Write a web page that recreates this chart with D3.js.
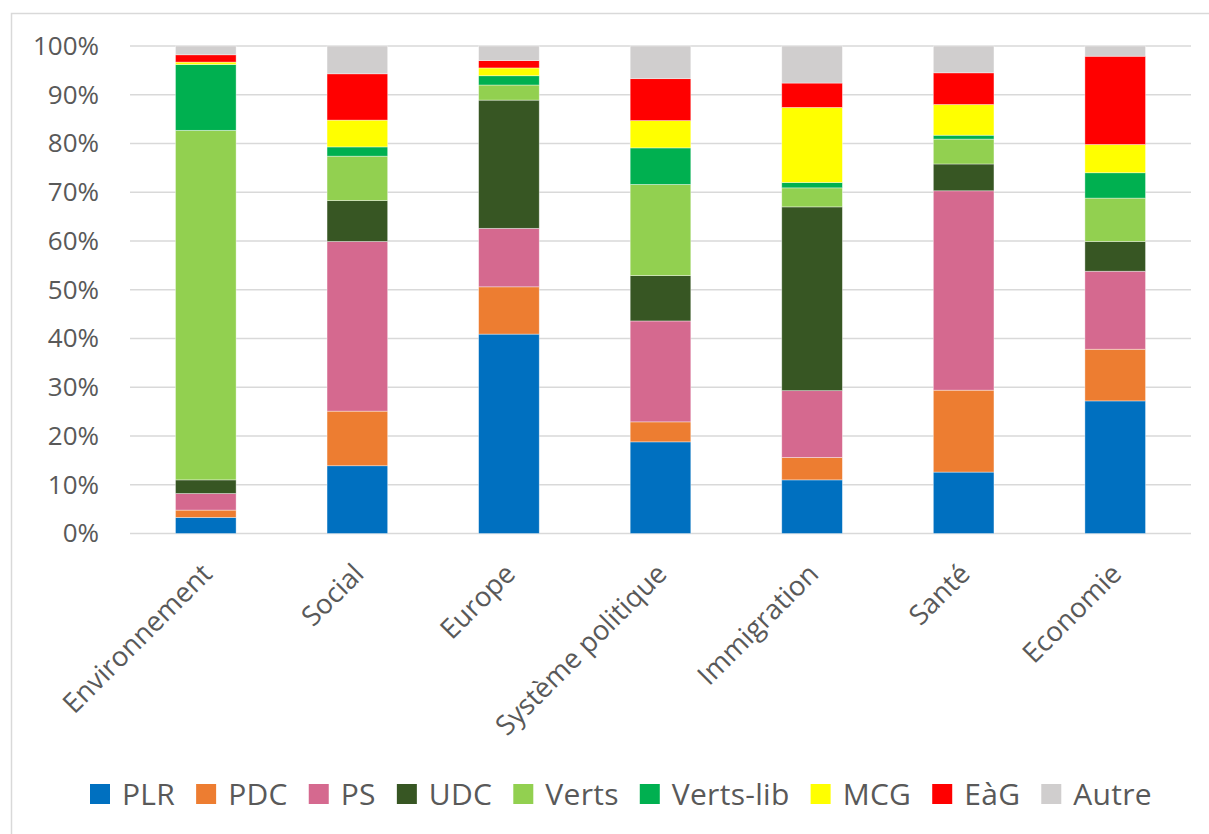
<!DOCTYPE html>
<html>
<head>
<meta charset="utf-8">
<script src="https://cdn.jsdelivr.net/npm/d3@7"></script>
<style>
  html, body { margin: 0; padding: 0; background: #fff; }
  svg { display: block; font-family: "Open Sans", sans-serif; }
</style>
</head>
<body>
<svg id="chart" width="1209" height="834"></svg>
<script>
// Thèmes (catégories)
const categories = ["Environnement", "Social", "Europe", "Système politique", "Immigration", "Santé", "Economie"];

// Partis, dans l'ordre d'empilement (du bas vers le haut)
const parties = ["PLR", "PDC", "PS", "UDC", "Verts", "Verts-lib", "MCG", "EàG", "Autre"];
const partyColors = ["#0070C0", "#ED7D31", "#D5698F", "#375623", "#92D050", "#00B050", "#FFFF00", "#FF0000", "#D0CECE"];

// Parts en % par thème (une liste par parti)
const PLR      = [3.3, 13.9, 40.9, 18.8, 11.0, 12.6, 27.2];
const PDC      = [1.5, 11.2,  9.7,  4.1,  4.6, 16.8, 10.6];
const PS       = [3.4, 34.8, 12.0, 20.7, 13.7, 40.9, 16.0];
const UDC      = [2.8,  8.4, 26.3,  9.3, 37.7,  5.5,  6.1];
const Verts    = [71.7, 9.1,  3.1, 18.7,  3.9,  5.1,  8.9];
const VertsLib = [13.5, 1.9,  1.9,  7.5,  1.1,  0.8,  5.2];
const MCG      = [0.5,  5.5,  1.6,  5.6, 15.4,  6.3,  5.8];
const EaG      = [1.5,  9.5,  1.5,  8.6,  5.0,  6.5, 18.1];
const Autre    = [1.8,  5.7,  3.0,  6.7,  7.6,  5.5,  2.1];

const yTicks = [0, 0.1, 0.2, 0.3, 0.4, 0.5, 0.6, 0.7, 0.8, 0.9, 1.0];

const seriesValues = [PLR, PDC, PS, UDC, Verts, VertsLib, MCG, EaG, Autre];
const rows = categories.map((c, i) => {
  const r = { cat: c };
  parties.forEach((p, j) => { r[p] = seriesValues[j][i] / 100; });
  return r;
});

const svg = d3.select("#chart");
const textColor = "#595959";
const gridColor = "#D9D9D9";

// Cadre du graphique
svg.append("path")
  .attr("d", "M11.5,834 L11.5,13.5 L1209,13.5")
  .attr("fill", "none")
  .attr("stroke", gridColor)
  .attr("stroke-width", 1.5);

const x = d3.scaleBand().domain(categories).range([130, 1191]).paddingInner(0.6).paddingOuter(0.3);
const y = d3.scaleLinear().domain([0, 1]).range([533.5, 46]);

// Grille horizontale
svg.append("g").selectAll("line").data(yTicks).join("line")
  .attr("x1", 130).attr("x2", 1191)
  .attr("y1", d => y(d)).attr("y2", d => y(d))
  .attr("stroke", gridColor).attr("stroke-width", 1.5);

// Axe vertical (étiquettes seulement)
const yAxis = d3.axisLeft(y).tickValues(yTicks).tickFormat(d3.format(".0%")).tickSize(0).tickPadding(0);
const gy = svg.append("g").attr("transform", "translate(99,0)").call(yAxis);
gy.select(".domain").remove();
gy.selectAll("text")
  .attr("fill", textColor)
  .style("font-size", "26px")
  .style("font-family", "'Open Sans', sans-serif");

// Barres empilées
const stack = d3.stack().keys(parties);
const stacked = stack(rows);
const color = d3.scaleOrdinal().domain(parties).range(partyColors);

svg.append("g").selectAll("g").data(stacked).join("g")
  .attr("fill", d => color(d.key))
  .selectAll("rect").data(d => d).join("rect")
  .attr("x", d => x(d.data.cat))
  .attr("width", x.bandwidth())
  .attr("y", d => y(d[1]))
  .attr("height", d => y(d[0]) - y(d[1]))
  .attr("stroke", "#ffffff")
  .attr("stroke-opacity", 0.5)
  .attr("stroke-width", 0.75);

// Axe horizontal
const xAxis = d3.axisBottom(x).tickSize(0).tickPadding(0);
const gx = svg.append("g").attr("transform", "translate(0,533.5)").call(xAxis);
gx.select(".domain").remove();
gx.selectAll(".tick text")
  .attr("fill", textColor)
  .style("font-size", "27.5px")
  .style("font-family", "'Open Sans', sans-serif")
  .attr("text-anchor", "end")
  .attr("dy", null)
  .attr("y", null)
  .attr("transform", "translate(8,42) rotate(-45)");

// Légende
const legend = svg.append("g").attr("transform", "translate(90,804)");
let lx = 0;
parties.forEach((p, i) => {
  const item = legend.append("g").attr("transform", `translate(${lx},0)`);
  item.append("rect").attr("x", 0).attr("y", -20).attr("width", 20).attr("height", 20).attr("fill", partyColors[i]);
  const t = item.append("text").attr("x", 32).attr("y", 1)
    .attr("fill", textColor)
    .style("font-size", "30px")
    .style("letter-spacing", "0.3px")
    .text(p);
  lx += 32 + t.node().getComputedTextLength() + 21;
});
</script>
</body>
</html>
